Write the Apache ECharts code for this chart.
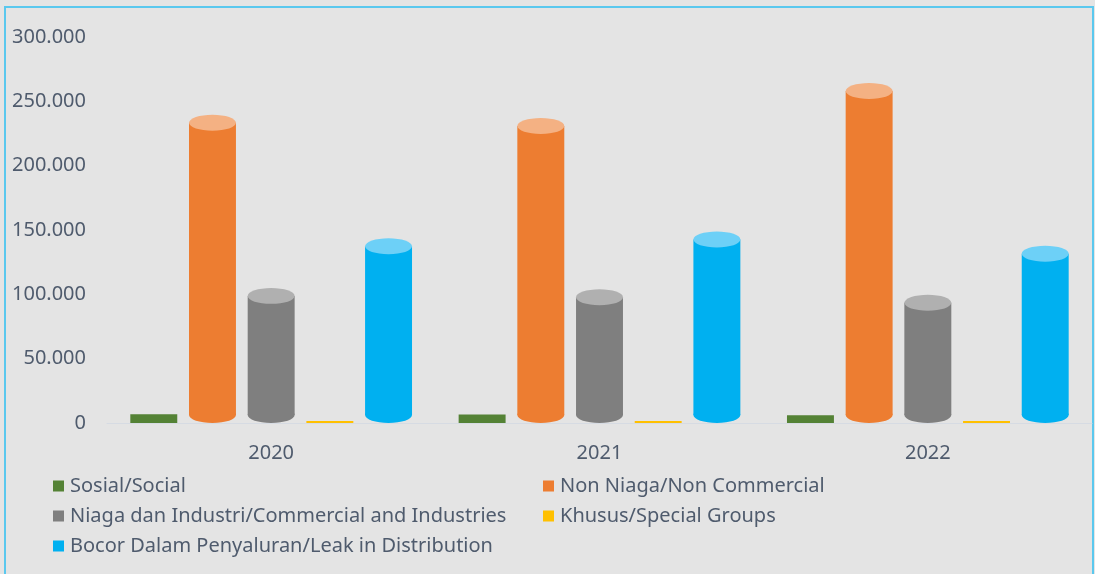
<!DOCTYPE html>
<html>
<head>
<meta charset="utf-8">
<script src="https://cdn.jsdelivr.net/npm/echarts@6/dist/echarts.min.js"></script>
<style>
html,body{margin:0;padding:0;background:#e4e4e4;}
#chart{width:1095px;height:574px;}
</style>
</head>
<body>
<div id="chart"></div>
<script>
// ---- data ----
const years = ['2020', '2021', '2022'];
const seriesNames = [
  'Sosial/Social',
  'Non Niaga/Non Commercial',
  'Niaga dan Industri/Commercial and Industries',
  'Khusus/Special Groups',
  'Bocor Dalam Penyaluran/Leak in Distribution'
];
const sosial = [6800, 6700, 6000];
const nonNiaga = [233300, 230800, 258000];
const niaga = [98800, 97800, 93400];
const khusus = [1200, 1200, 1200];
const bocor = [137400, 142600, 131500];
const yTicks = [0, 50000, 100000, 150000, 200000, 250000, 300000];

const values = [sosial, nonNiaga, niaga, khusus, bocor];
const colors = ['#548235', '#ed7d31', '#7f7f7f', '#ffc000', '#00b0f0'];
const capColors = ['#6f9a4e', '#f4b183', '#b0b0b0', '#ffd966', '#6dd0f7'];

function fmt(v) {
  return String(v).replace(/\B(?=(\d{3})+(?!\d))/g, '.');
}

const chart = echarts.init(document.getElementById('chart'));

function makeRender(sIdx) {
  return function (params, api) {
    const cat = api.value(0);
    const val = api.value(1);
    const catW = api.size([1, 0])[0];
    const barW = catW * 0.143;
    const step = barW * 1.25;
    const pTop = api.coord([cat, val]);
    const p0 = api.coord([cat, 0]);
    const cx = pTop[0] + (sIdx - 2) * step;
    const x = cx - barW / 2;
    const yTop = pTop[1];
    const y0 = p0[1];
    const ry = barW * 0.17;
    const h = y0 - yTop;
    if (h < 3 * ry) {
      const hh = Math.max(h, 2);
      return {
        type: 'rect',
        shape: { x: x, y: y0 - hh, width: barW, height: hh },
        style: { fill: colors[sIdx] }
      };
    }
    return {
      type: 'group',
      children: [
        {
          type: 'ellipse',
          shape: { cx: cx, cy: y0 - ry, rx: barW / 2, ry: ry },
          style: { fill: colors[sIdx] }
        },
        {
          type: 'rect',
          shape: { x: x, y: yTop, width: barW, height: y0 - ry - yTop },
          style: { fill: colors[sIdx] }
        },
        {
          type: 'ellipse',
          shape: { cx: cx, cy: yTop, rx: barW / 2, ry: ry },
          style: { fill: capColors[sIdx] }
        }
      ]
    };
  };
}

const series = seriesNames.map(function (name, s) {
  return {
    name: name,
    type: 'custom',
    renderItem: makeRender(s),
    itemStyle: { color: colors[s] },
    encode: { x: 0, y: 1 },
    data: values[s].map(function (v, i) { return [i, v]; }),
    z: 2
  };
});

const textColor = '#4f5b6d';
const legendBase = {
  orient: 'vertical',
  icon: 'rect',
  itemWidth: 11,
  itemHeight: 11,
  itemGap: 8,
  padding: 0,
  top: 475,
  textStyle: { color: textColor, fontSize: 20, fontFamily: 'Noto Sans', lineHeight: 22, padding: [0, 0, 0, 1] },
  selectedMode: false
};

chart.setOption({
  backgroundColor: '#e4e4e4',
  animation: false,
  grid: { left: 107, right: 3, top: 37, bottom: 151, containLabel: false },
  legend: [
    Object.assign({}, legendBase, { left: 53, data: [seriesNames[0], seriesNames[2], seriesNames[4]] }),
    Object.assign({}, legendBase, { left: 543, data: [seriesNames[1], seriesNames[3]] })
  ],
  xAxis: {
    type: 'category',
    data: years,
    axisTick: { show: false },
    axisLine: { lineStyle: { color: '#d6dbe3', width: 1 } },
    axisLabel: { color: textColor, fontSize: 20, fontFamily: 'Noto Sans', margin: 20 }
  },
  yAxis: {
    type: 'value',
    min: yTicks[0],
    max: yTicks[yTicks.length - 1],
    interval: yTicks[1] - yTicks[0],
    splitLine: { show: false },
    axisLine: { show: false },
    axisTick: { show: false },
    axisLabel: { color: textColor, fontSize: 20, fontFamily: 'Noto Sans', margin: 21, formatter: fmt }
  },
  graphic: [
    {
      type: 'rect',
      shape: { x: 5, y: 7, width: 1088, height: 580 },
      style: { fill: 'none', stroke: '#5ac8ee', lineWidth: 2 },
      silent: true,
      z: 0
    }
  ],
  series: series
});
</script>
</body>
</html>
